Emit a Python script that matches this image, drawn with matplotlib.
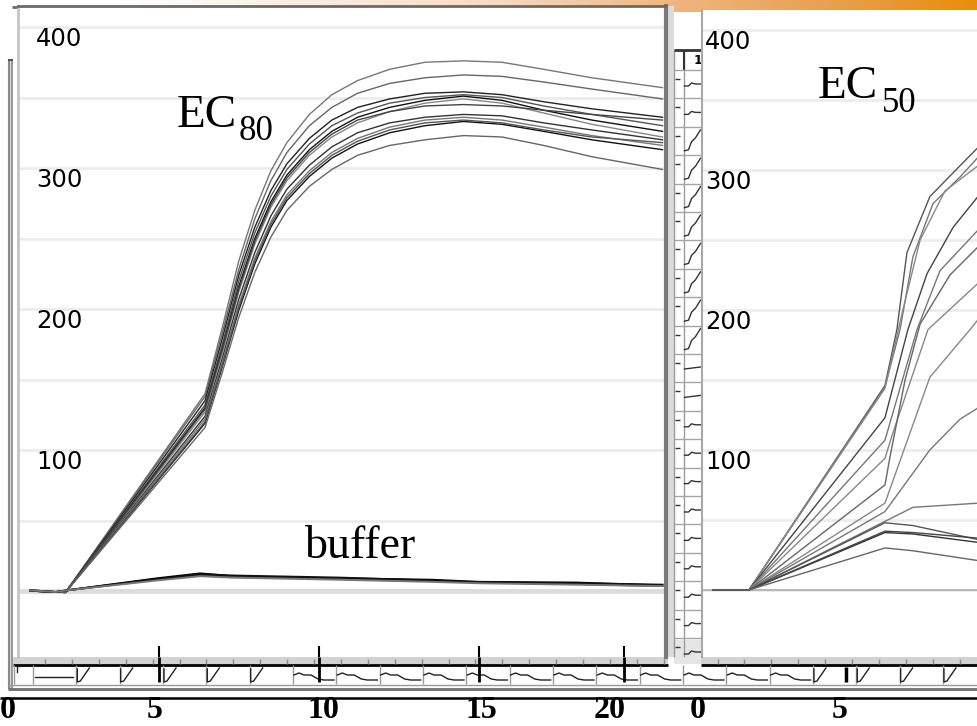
import matplotlib
matplotlib.use("Agg")
import matplotlib.pyplot as plt
import numpy as np
from matplotlib.colors import LinearSegmentedColormap
from matplotlib.transforms import blended_transform_factory

# ---------------- chart values ----------------
EC80_T = [1.0, 2.1, 6.45, 7.0, 7.5, 8.0, 8.5, 9.0, 9.7, 10.4, 11.2, 12.2, 13.3, 14.5, 15.7, 17.0, 18.5, 20.7]
EC80_A = [0, -1, 140, 188, 234, 270, 298, 318, 338, 352, 362, 370, 375, 376, 375, 370, 364, 357]
EC80_B = [0, -1, 138, 184, 228, 264, 291, 311, 330, 343, 353, 360, 364, 366, 365, 361, 356, 349]
EC80_C1 = [0, -1, 135, 180, 224, 258, 284, 303, 321, 334, 343, 349, 353, 354, 352, 347, 342, 336]
EC80_C2 = [0, -1, 132, 176, 220, 254, 280, 299, 317, 330, 339, 346, 350, 352, 350, 344, 338, 330]
EC80_C3 = [0, -1, 130, 173, 216, 250, 276, 295, 313, 326, 336, 343, 348, 351, 348, 341, 334, 326]
EC80_C4 = [0, -1, 127, 170, 212, 246, 272, 291, 309, 322, 332, 340, 346, 349, 346, 339, 331, 322]
EC80_C5 = [0, -1, 129, 172, 214, 248, 274, 293, 311, 324, 334, 340, 344, 345, 344, 341, 338, 334]
EC80_D1 = [0, -1, 124, 166, 207, 240, 266, 285, 302, 315, 325, 332, 336, 338, 337, 332, 327, 320]
EC80_D2 = [0, -1, 122, 163, 203, 236, 262, 281, 298, 311, 321, 329, 334, 336, 334, 329, 323, 316]
EC80_D3 = [0, -1, 119, 160, 199, 232, 258, 277, 294, 307, 317, 325, 330, 333, 331, 326, 320, 313]
EC80_D4 = [0, -1, 120, 161, 201, 234, 260, 279, 296, 309, 319, 327, 332, 334, 332, 327, 322, 318]
EC80_E = [0, -1, 116, 156, 194, 226, 251, 270, 287, 299, 309, 316, 320, 323, 322, 316, 308, 299]
EC80_CURVES = [EC80_A, EC80_B, EC80_C1, EC80_C2, EC80_C3, EC80_C4, EC80_C5,
               EC80_D1, EC80_D2, EC80_D3, EC80_D4, EC80_E]

BUFFER_T = [1.0, 1.8, 2.15, 4.95, 6.3, 7.3, 10.65, 13.5, 15.0, 18.0, 20.7]
BUFFER_1 = [0.5, -0.7, 0.5, 9.0, 12.5, 10.5, 9.0, 8.0, 6.5, 6.0, 4.0]
BUFFER_2 = [0.5, -0.7, 0.5, 8.0, 11.0, 10.0, 8.5, 7.0, 6.0, 5.0, 3.5]
BUFFER_3 = [0.5, -0.7, 0.5, 8.5, 12.0, 11.0, 9.5, 7.5, 6.0, 5.5, 4.5]
BUFFER_4 = [0.5, -0.7, 0.5, 7.5, 10.5, 9.5, 8.0, 6.5, 5.5, 4.5, 3.5]
BUFFER_CURVES = [BUFFER_1, BUFFER_2, BUFFER_3, BUFFER_4]

# EC50 curves: (time, value) pairs
EC50_CURVES = [
    [(0.95, 0), (2.1, 0), (6.43, 146), (6.81, 186), (7.13, 241), (7.86, 281), (8.6, 298), (9.39, 316)],
    [(0.95, 0), (2.1, 0), (6.43, 145), (6.91, 186), (7.32, 238), (7.96, 276), (8.82, 295), (9.39, 309)],
    [(0.95, 0), (2.1, 0), (6.43, 144), (7.0, 200), (7.55, 250), (8.34, 285), (9.39, 303)],
    [(0.95, 0), (2.1, 0), (6.43, 123), (7.16, 186), (7.77, 226), (8.6, 259), (9.39, 281)],
    [(0.95, 0), (2.1, 0), (6.43, 107), (7.45, 186), (8.18, 228), (9.39, 257)],
    [(0.95, 0), (2.1, 0), (6.43, 94), (6.65, 110), (7.80, 186), (9.39, 219)],
    [(0.95, 0), (2.1, 0), (6.43, 75), (6.59, 95), (7.07, 150), (7.55, 190), (8.5, 225), (9.39, 245)],
    [(0.95, 0), (2.1, 0), (6.43, 62), (7.86, 152), (9.14, 186), (9.39, 193)],
    [(0.95, 0), (2.1, 0), (6.43, 56), (7.86, 100), (8.82, 122), (9.39, 130)],
    [(0.95, 0), (2.1, 0), (6.43, 49), (7.32, 59), (9.39, 62)],
    [(0.95, 0), (2.1, 0), (6.43, 48), (7.32, 46), (9.39, 36)],
    [(0.95, 0), (2.1, 0), (6.43, 41), (7.32, 40), (9.39, 34)],
    [(0.95, 0), (2.1, 0), (6.43, 42), (7.32, 41), (9.39, 37)],
    [(0.95, 0), (2.1, 0), (6.43, 30), (7.32, 28), (9.39, 21)],
]

Y_GRID = [0, 50, 100, 150, 200, 250, 300, 350, 400]
Y_LABELS = ['', '', '100', '', '200', '', '300', '', '400']
LEFT_XTICKS = [5, 10, 15, 19.5]
BOTTOM_LABELS = ['0', '5', '10', '15', '20', '0', '5']

# background sparkline cells (bottom row and the column between panels)
ROW_CELLS = ['flat'] + ['rise'] * 5 + ['wave'] * 12 + ['rise'] * 4
GAP_CELLS = ['wave'] * 2 + ['rise'] * 8 + ['flat'] * 2 + ['wave'] * 9
SPARK_ROW = {'rise': ([1, 1, 4, 13], [4, 17, 16, 3]),
             'wave': ([1, 6, 11, 18, 25, 31, 41], [10, 8, 10, 10, 14, 15, 15]),
             'flat': ([2, 40], [12, 12])}
SPARK_GAP = {'rise': ([1, 5, 8, 12, 17], [24, 23, 15, 11, 3]),
             'wave': ([1, 5, 8, 12, 17], [16, 16, 13, 14, 14]),
             'flat': ([1, 17], [15, 13])}

# ---------------- styles ----------------
EC80_COLORS = ['#777777', '#666666', '#222222', '#555555', '#111111', '#888888',
               '#444444', '#333333', '#777777', '#111111', '#555555', '#666666']
EC50_COLORS = ['#555555', '#777777', '#888888', '#444444', '#777777', '#888888',
               '#666666', '#888888', '#777777', '#777777', '#555555', '#333333',
               '#444444', '#666666']
BUFFER_COLORS = ['#000000', '#333333', '#111111', '#777777']

W, H = 978, 726
fig = plt.figure(figsize=(W / 100, H / 100), dpi=100)
fig.patch.set_facecolor('white')


def fr(x0, y0, x1, y1):
    return [x0 / W, 1 - y1 / H, (x1 - x0) / W, (y1 - y0) / H]


# ---------------- background (pixel coordinates) ----------------
bg = fig.add_axes([0, 0, 1, 1], zorder=0)
bg.axis('off')

cmap = LinearSegmentedColormap.from_list(
    'band', [(0, '#ffffff'), (0.12, '#ffffff'), (0.5, '#f6dcc6'),
             (0.7, '#eeb47e'), (0.85, '#e9a050'), (1.0, '#e88e0c')])
bg.imshow(np.linspace(0, 1, 400)[None, :], extent=[0, W, 12, 0], cmap=cmap,
          aspect='auto', zorder=0)


def hl(y, x0, x1, **kw):
    bg.plot([x0, x1], [y, y], solid_capstyle='butt', **kw)


def vl(x, y0, y1, **kw):
    bg.plot([x, x], [y0, y1], solid_capstyle='butt', **kw)


# outer sheet frame
bg.fill_between([8, 12], 60, 689, color='#dadada', lw=0)
vl(8.5, 60, 689, color='#8a8a8a', lw=1.5)
vl(12, 60, 689, color='#8a8a8a', lw=1.2)
hl(60, 7.5, 13, color='#555555', lw=1.5)
hl(6.5, 12, 18, color='#6a6a6a', lw=2)
hl(684.5, 8, W, color='#9a9a9a', lw=1)
hl(689, 8, W, color='#707070', lw=2)
hl(698, 0, W, color='#000000', lw=1.8)

# gray band + axis line of background sheet
for xa, xb in [(13, 668), (701, W)]:
    bg.fill_between([xa, xb], 657, 663.5, color='#d2d2d2', lw=0)
    hl(664.5, xa, xb, color='black', lw=2)
for xm in np.arange(45, W, 26.9):
    if not (668 < xm < 701):
        vl(xm, 659, 664, color='#8a8a8a', lw=1)

# sparkline row
vl(13.5, 665, 684, color='#999999', lw=1)
bg.plot([17, 17, 20], [672, 666, 666], color='#222222', lw=1)
cell_w = 43.33
for k, kind in enumerate(ROW_CELLS):
    x0 = 33 + k * cell_w
    if x0 > W:
        break
    vl(x0, 665, 684, color='#999999', lw=1)
    dx, dy = SPARK_ROW[kind]
    bg.plot([x0 + d for d in dx], [665 + d for d in dy], color='#222222', lw=1)

# column between the panels
bg.fill_between([668, 673.5], 6, 657, color='#dcdcdc', lw=0)
vl(674, 50, 657, color='#9a9a9a', lw=1)
vl(683.5, 50, 657, color='#9a9a9a', lw=1)
hl(50, 674, 702, color='#333333', lw=2)
vl(683.5, 50, 70, color='#333333', lw=1.5)
bg.text(694, 61, '1', fontsize=9, fontweight='bold', va='center', ha='left')
gh = 28.4
for k, kind in enumerate(GAP_CELLS):
    y0 = 70 + k * gh
    if y0 > 657:
        break
    hl(y0, 674, 702, color='#a5a5a5', lw=1)
    hl(y0 + 9, 675, 680, color='#333333', lw=1)
    dx, dy = SPARK_GAP[kind]
    yy = [min(y0 + d, 656) for d in dy]
    bg.plot([683.5 + d for d in dx], yy, color='#333333', lw=1)
bg.fill_between([673.5, 701], 640, 663.5, color='#e6e6e6', lw=0)

# bold labels of the background sheet
for lab, xc in zip(BOTTOM_LABELS, [8, 155, 323, 481, 610, 698, 840]):
    bg.text(xc, 710, lab, family='Liberation Serif', fontweight='bold',
            fontsize=23, ha='center', va='center')

# ---------------- left panel (EC80 + buffer) ----------------
ax1 = fig.add_axes(fr(18, 6, 666, 657), zorder=1)
ax1.set_facecolor('white')
ax1.set_xlim(0.623, 20.81)
ax1.set_ylim(-46.8, 414.9)
for c, col in zip(EC80_CURVES, EC80_COLORS):
    ax1.plot(EC80_T, c, color=col, lw=1.0, zorder=3)
for c, col in zip(BUFFER_CURVES, BUFFER_COLORS):
    ax1.plot(BUFFER_T, c, color=col, lw=1.4, zorder=3)
ax1.text(5.58, 329, 'EC', family='Liberation Serif', fontsize=34, ha='left', va='baseline')
ax1.text(7.51, 320, '80', family='Liberation Serif', fontsize=25, ha='left', va='baseline')
ax1.text(9.56, 23.4, 'buffer', family='Liberation Serif', fontsize=33, ha='left', va='baseline')

# ---------------- right panel (EC50) ----------------
ax2 = fig.add_axes(fr(702, 10, W, 657), zorder=1)
ax2.set_facecolor('white')
ax2.set_xlim(0.603, 9.393)
ax2.set_ylim(-47.9, 414.3)
for c, col in zip(EC50_CURVES, EC50_COLORS):
    t = [p[0] for p in c]
    v = [p[1] for p in c]
    ax2.plot(t, v, color=col, lw=1.0, zorder=3)
ax2.text(4.30, 351.4, 'EC', family='Liberation Serif', fontsize=34, ha='left', va='baseline')
ax2.text(6.32, 341.4, '50', family='Liberation Serif', fontsize=25, ha='left', va='baseline')

for ax, pad, zcol, zlw in [(ax1, -13, '#dcdcdc', 3.5), (ax2, -2.2, '#b8b8b8', 1.5)]:
    ax.set_yticks(Y_GRID)
    ax.set_yticklabels(Y_LABELS, ha='left', va='top', fontsize=17.5)
    ax.tick_params(axis='y', length=0, pad=pad)
    ax.yaxis.grid(True, color='#ececec', lw=2, zorder=1)
    ax.axhline(0, color=zcol, lw=zlw, zorder=2)
    ax.set_axisbelow(True)

ax1.set_xticks(LEFT_XTICKS)
ax1.set_xticklabels([])
ax1.tick_params(axis='x', direction='in', length=8, width=1.5, color='black')
ax2.set_xticks([])

ax1.spines['top'].set_color('#6a6a6a')
ax1.spines['top'].set_linewidth(2)
ax1.spines['right'].set_color('#7a7a7a')
ax1.spines['right'].set_linewidth(3)
ax1.spines['left'].set_color('#c4c4c4')
ax1.spines['left'].set_linewidth(2)
ax1.spines['bottom'].set_visible(False)
for s in ['top', 'right', 'bottom']:
    ax2.spines[s].set_visible(False)
ax2.spines['left'].set_color('#a8a8a8')
ax2.spines['left'].set_linewidth(1.5)

# long ticks continuing into the background row
tr = blended_transform_factory(ax1.transData, bg.transData)
for xt in LEFT_XTICKS:
    bg.plot([xt, xt], [657, 682], color='black', lw=2, transform=tr, solid_capstyle='butt')
vl(846, 667, 682, color='black', lw=2.5)

bg.set_xlim(0, W)
bg.set_ylim(H, 0)

fig.savefig('out.png', dpi=100, facecolor='white')
